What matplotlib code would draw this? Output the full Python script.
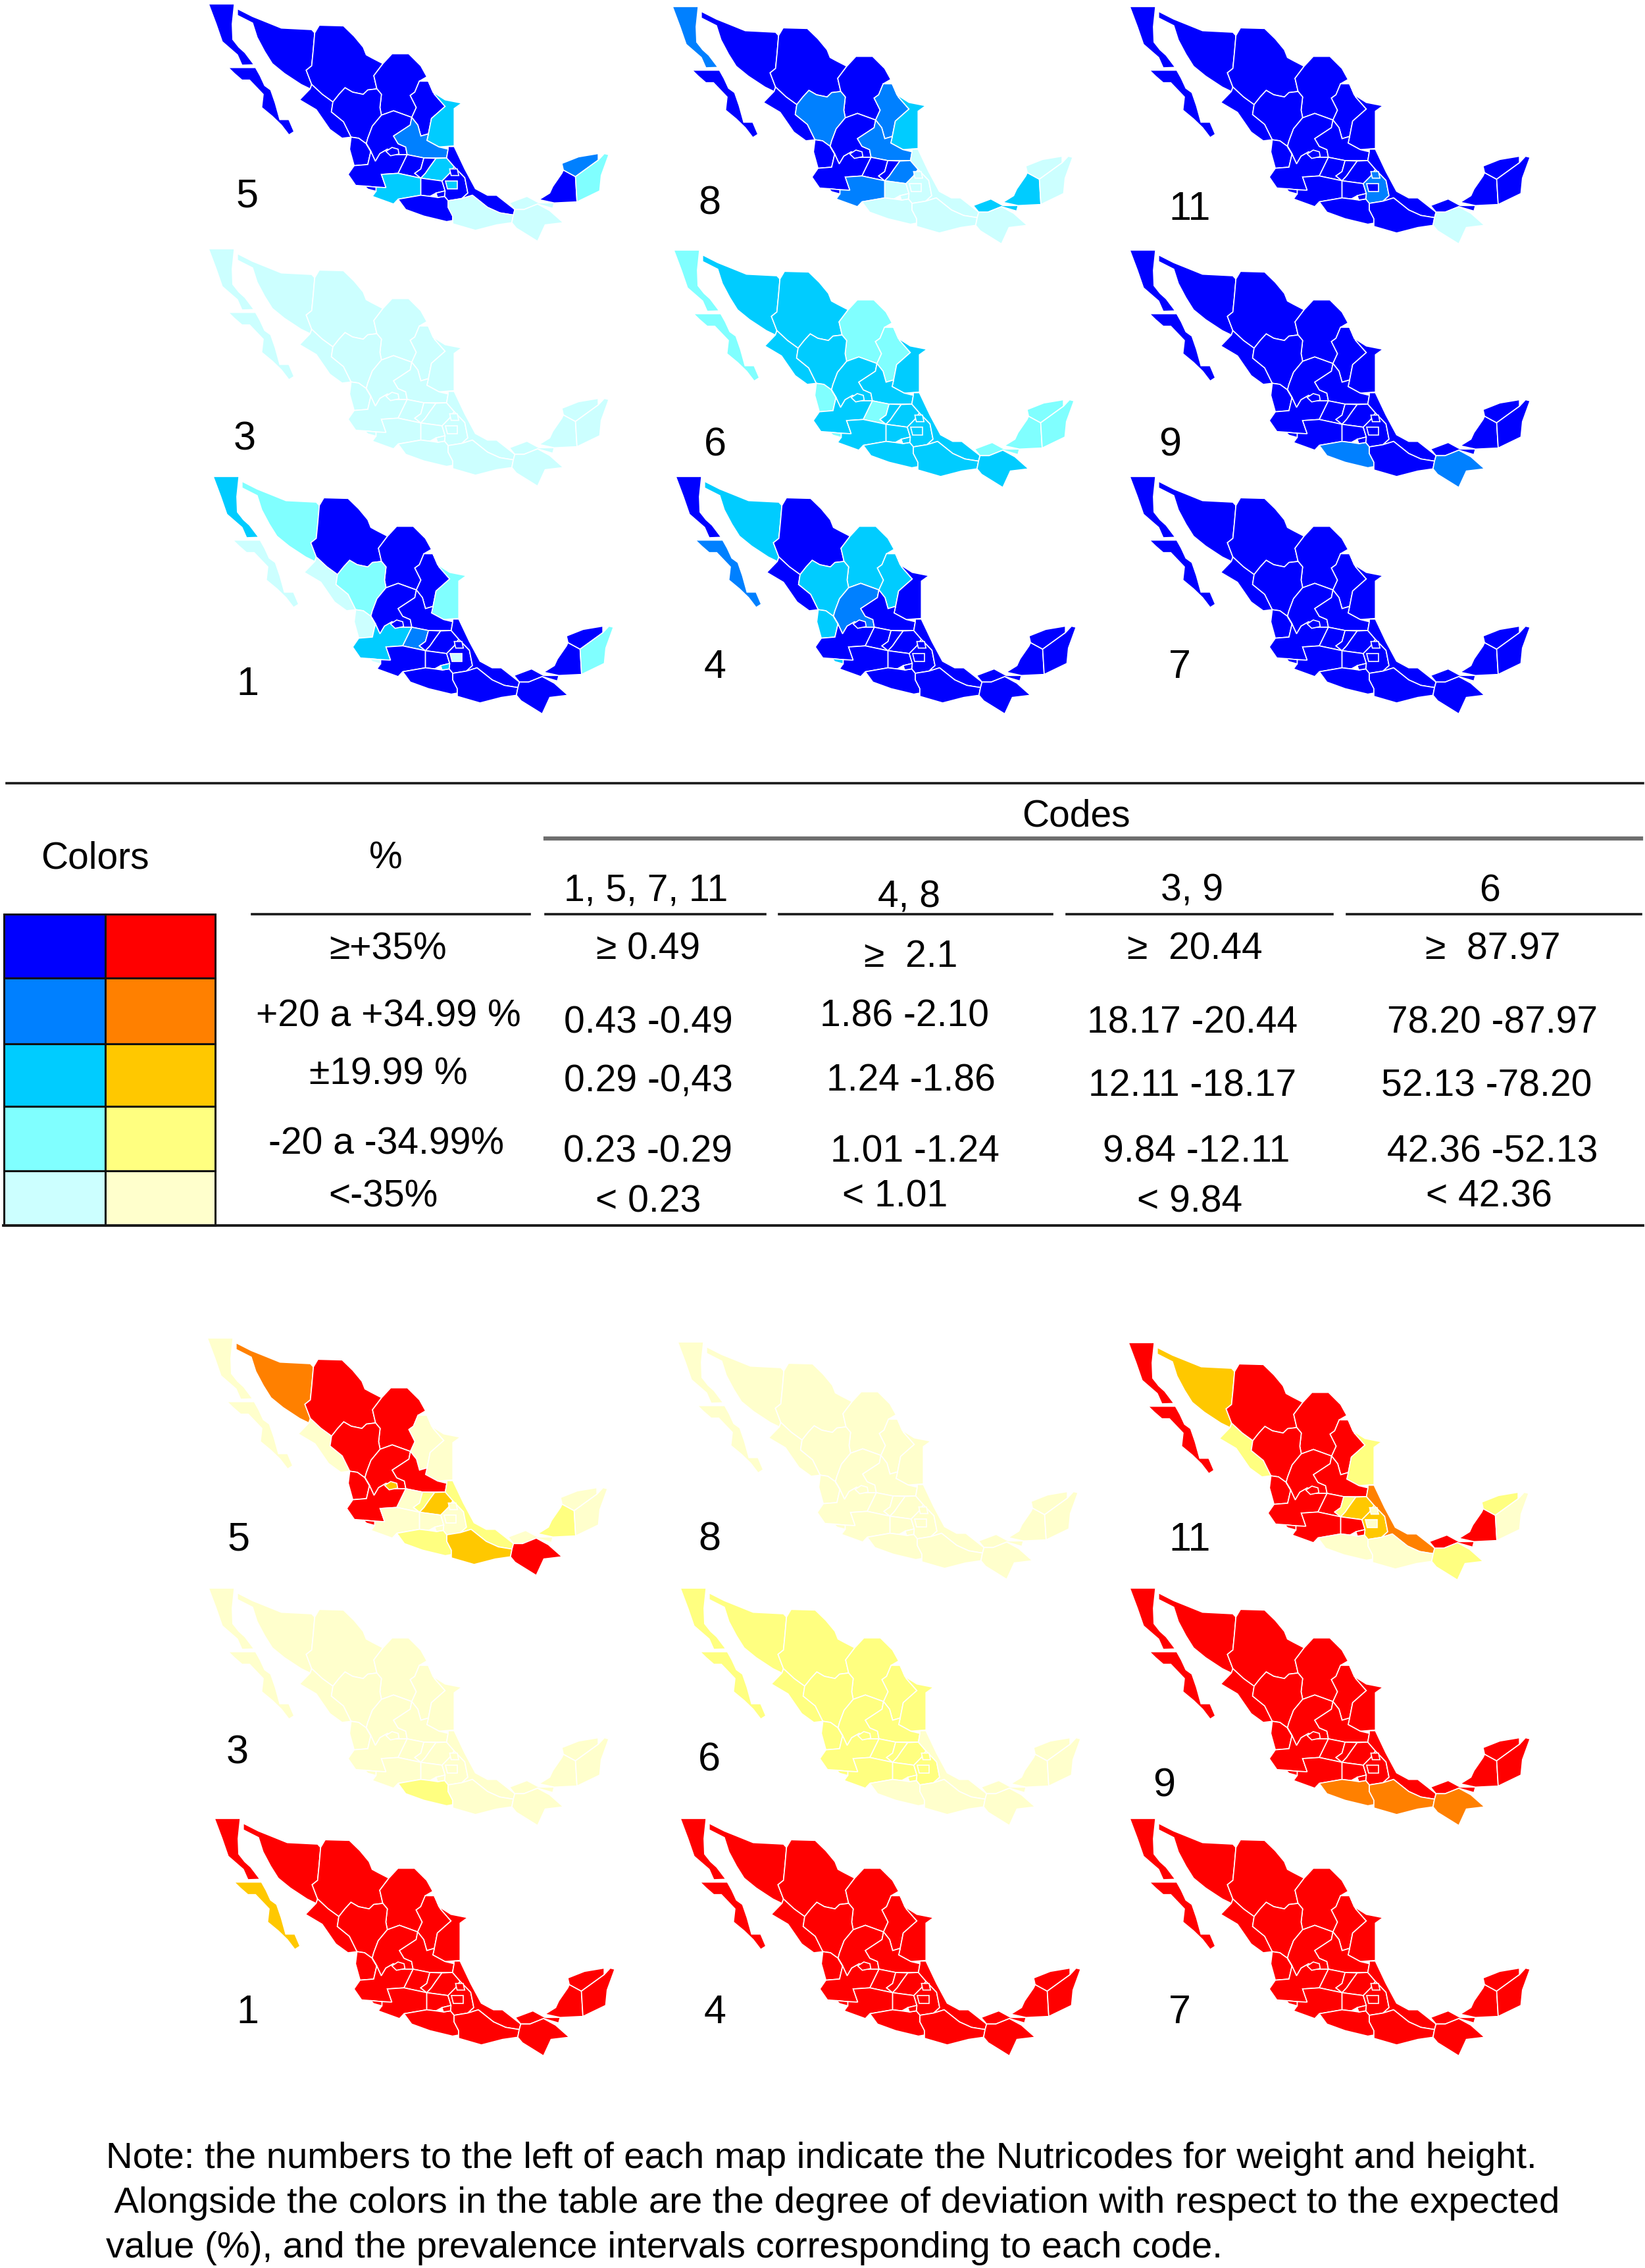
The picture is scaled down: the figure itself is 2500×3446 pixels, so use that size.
import matplotlib
matplotlib.use("Agg")
import matplotlib.pyplot as plt
from matplotlib.patches import Polygon, Rectangle

plt.rcParams['font.family'] = ['Liberation Sans', 'DejaVu Sans']

# state outlines (map 5, upper block)
BC = [(80,18),(165,18),(158,110),(160,180),(180,215),(200,240),(230,295),(190,297),(175,250),(125,190),(105,110)]
BCS = [(145,308),(235,308),(250,345),(265,390),(285,410),(300,470),(315,545),(345,545),(362,600),(345,615),(320,570),(290,530),(255,490),(260,430),(215,365),(190,365),(165,335)]
SON = [(175,40),(225,75),(270,100),(320,128),(420,135),(430,150),(425,230),(420,300),(402,320),(420,385),(415,405),(385,385),(330,335),(290,290),(265,235),(240,170),(225,105),(175,70)]
CHH = [(445,115),(525,118),(560,165),(590,215),(600,250),(620,265),(655,290),(625,345),(635,405),(605,410),(590,430),(555,420),(530,400),(510,430),(490,465),(455,430),(420,385),(402,320),(420,300),(425,230),(430,150)]
COA = [(685,245),(740,245),(780,300),(800,350),(775,370),(760,420),(745,435),(765,490),(750,535),(690,505),(650,525),(645,490),(650,430),(635,405),(625,345),(655,290)]
NL = [(775,370),(805,370),(825,430),(860,485),(815,540),(805,610),(780,620),(770,570),(750,535),(765,490),(745,435),(760,420)]
TAM = [(805,370),(820,420),(860,455),(915,470),(890,495),(890,665),(840,670),(800,640),(805,610),(815,540),(860,485),(825,430)]
SIN = [(415,405),(420,385),(455,430),(490,465),(485,510),(525,555),(550,625),(520,630),(480,590),(435,500),(380,455)]
DUR = [(490,465),(510,430),(530,400),(555,420),(590,430),(605,410),(635,405),(650,430),(645,490),(650,525),(620,575),(605,630),(600,655),(575,630),(550,625),(525,555),(485,510)]
ZAC = [(650,525),(690,505),(750,535),(745,570),(690,620),(705,655),(730,670),(735,705),(700,705),(670,680),(645,700),(630,735),(615,690),(600,655),(605,630),(620,575)]
SLP = [(750,535),(770,570),(780,620),(805,610),(800,640),(840,670),(870,680),(865,720),(790,720),(735,705),(730,670),(705,655),(690,620),(745,570)]
AGS = [(665,690),(685,672),(705,680),(708,702),(680,710)]
NAY = [(550,625),(575,630),(600,655),(615,690),(605,750),(560,755),(545,680)]
JAL = [(600,655),(615,690),(630,735),(645,700),(670,680),(700,705),(735,705),(705,790),(650,795),(665,855),(632,853),(595,848),(565,845),(540,795),(560,755),(605,750),(615,690)]
COL = [(595,848),(632,853),(632,872),(605,862)]
GTO = [(735,705),(790,720),(780,770),(760,790),(780,812),(705,790)]
QRO = [(790,720),(830,722),(810,760),(795,790),(780,812),(760,790),(780,770)]
HGO = [(830,722),(865,720),(890,760),(875,790),(850,825),(780,812),(795,790),(810,760)]
MIC = [(650,795),(705,790),(780,812),(780,890),(705,908),(690,930),(620,895),(632,872),(632,853),(665,855)]
MEX = [(780,812),(850,825),(860,870),(830,880),(810,895),(780,890)]
DF = [(862,826),(900,826),(900,860),(868,860)]
TLX = [(875,770),(900,770),(905,800),(880,800)]
MOR = [(830,880),(860,870),(858,895),(835,900)]
PUE = [(875,790),(890,760),(925,810),(935,880),(915,905),(870,915),(858,895),(860,870),(850,825)]
VER = [(870,668),(890,668),(925,770),(960,860),(1000,890),(1030,890),(1090,955),(1085,980),(1040,970),(1000,945),(950,890),(915,905),(935,880),(925,810),(890,760),(865,720),(870,680)]
GRO = [(705,908),(780,890),(810,895),(835,900),(858,895),(870,915),(870,945),(885,985),(885,1005),(865,1010),(790,985),(730,955)]
OAX = [(870,915),(915,905),(950,890),(1000,945),(1040,970),(1085,980),(1080,1015),(1030,1025),(960,1050),(885,1020),(885,985),(870,945)]
TAB = [(1090,955),(1072,925),(1130,895),(1170,925),(1220,925),(1215,950),(1165,930),(1120,955)]
CHP = [(1085,980),(1090,955),(1120,955),(1165,930),(1205,960),(1250,1015),(1190,1025),(1165,1100),(1095,1040),(1080,1015)]
CAM = [(1250,775),(1290,805),(1295,920),(1220,925),(1170,910),(1205,880),(1215,850),(1245,790)]
YUC = [(1245,745),(1300,715),(1365,700),(1365,730),(1290,805),(1250,775)]
QROO = [(1385,700),(1400,705),(1375,800),(1370,870),(1295,920),(1290,805),(1365,730)]

states = [BC, BCS, SON, CHH, COA, NL, TAM, SIN, DUR, ZAC, SLP, NAY, JAL, GTO, QRO, HGO, MIC, MEX,
          PUE, VER, GRO, OAX, TAB, CHP, CAM, YUC, QROO, AGS, COL, DF, TLX, MOR]

# colour class of each state (0 = >=+35% ... 4 = <-35%), same order as states
blue_5 = [0,0,0,0,0,0,2,0,0,0,1,0,0,0,0,2,2,0,0,0,0,4,4,4,0,1,3,0,0,2,0,0]
blue_8 = [1,0,0,0,0,1,2,0,1,0,1,0,0,0,0,1,1,4,4,4,4,4,2,4,2,4,4,0,0,4,4,4]
blue_11 = [0,0,0,0,0,0,0,0,0,0,0,0,0,0,0,0,0,0,1,0,0,0,0,4,0,0,0,0,0,0,1,0]
blue_3 = [4]*32
blue_6 = [3,3,2,2,3,3,2,2,2,2,2,3,2,3,2,2,2,2,2,2,2,2,3,2,3,3,3,2,3,2,2,2]
blue_9 = [0,0,0,0,0,0,0,0,0,0,0,0,0,0,0,0,0,0,0,0,1,0,0,1,0,0,0,0,0,0,0,0]
blue_1 = [2,4,3,0,0,0,3,4,3,0,0,4,2,1,0,0,0,0,0,0,0,0,0,0,0,0,3,0,4,4,0,2]
blue_4 = [0,1,2,0,2,2,0,0,2,1,0,2,0,0,0,0,0,0,0,0,0,0,0,0,0,0,0,0,2,0,0,0]
blue_7 = [0]*32

red_5 = [4,4,1,0,0,4,4,4,0,0,0,0,0,4,3,2,4,4,4,3,3,2,4,0,3,4,4,2,0,4,4,4]
red_8 = [4]*32
red_11 = [0,0,2,0,0,0,3,3,0,0,0,0,0,0,3,2,0,0,2,1,4,4,0,3,0,3,4,0,0,4,4,0]
red_3 = [4,4,4,4,4,4,4,4,4,4,4,4,4,4,4,4,4,4,4,4,3,4,4,4,4,4,4,4,4,4,4,4]
red_6 = [3,3,3,3,3,3,3,3,3,3,3,3,3,3,3,3,3,3,3,4,4,4,4,4,4,4,4,3,3,3,3,3]
red_9 = [0,0,0,0,0,0,0,0,0,0,0,0,0,0,0,0,0,0,0,0,1,1,0,1,0,0,0,0,0,0,0,0]
red_1 = [0,2,0,0,0,0,0,0,0,0,0,0,0,0,0,0,0,0,0,0,0,0,0,0,0,0,0,0,0,0,0,0]
red_4 = [0]*32
red_7 = [0]*32

blues = ["#0000ff", "#0080ff", "#00ccff", "#80ffff", "#ccffff"]
reds = ["#ff0000", "#ff8000", "#ffc800", "#ffff80", "#ffffcc"]

pct_labels = ["≥+35%", "+20 a +34.99 %", "±19.99 %", "-20 a -34.99%", "<-35%"]
col_headers = ["1, 5, 7, 11", "4, 8", "3, 9", "6"]
col1 = ["≥ 0.49", "0.43 -0.49", "0.29 -0,43", "0.23 -0.29", "< 0.23"]
col2 = ["≥  2.1", "1.86 -2.10", "1.24 -1.86", "1.01 -1.24", "< 1.01"]
col3 = ["≥  20.44", "18.17 -20.44", "12.11 -18.17", "9.84 -12.11", "< 9.84"]
col4 = ["≥  87.97", "78.20 -87.97", "52.13 -78.20", "42.36 -52.13", "< 42.36"]
note = ["Note: the numbers to the left of each map indicate the Nutricodes for weight and height.",
        " Alongside the colors in the table are the degree of deviation with respect to the expected",
        "value (%), and the prevalence intervals corresponding to each code."]

W, H = 2500, 3446
FS = 41

fig = plt.figure(figsize=(W / 100, H / 100), dpi=100, facecolor="white")
ax = fig.add_axes([0, 0, 1, 1])
ax.set_xlim(0, W)
ax.set_ylim(H, 0)
ax.axis("off")


def draw_map(classes, palette, x0, y0):
    for outline, c in zip(states, classes):
        pts = [(x0 + (x - 80) / 2.17, y0 + (y - 18) / 3) for x, y in outline]
        ax.add_patch(Polygon(pts, closed=True, facecolor=palette[c], edgecolor="white", lw=1.2))


def txt(x, y, s, size=FS, ha="center"):
    ax.text(x, y + 4, s, fontsize=size, ha=ha, va="center", color="black")


# upper block
maps_top = [(blue_5, 317, 6, "5", 376, 295), (blue_8, 1022, 10, "8", 1078, 306), (blue_11, 1717, 10, "11", 1808, 315),
            (blue_3, 317, 378, "3", 372, 664), (blue_6, 1024, 380, "6", 1087, 673), (blue_9, 1717, 380, "9", 1778, 673),
            (blue_1, 324, 724, "1", 376, 1036), (blue_4, 1027, 724, "4", 1087, 1010), (blue_7, 1717, 724, "7", 1793, 1010)]
for classes, x0, y0, label, lx, ly in maps_top:
    draw_map(classes, blues, x0, y0)
    txt(lx, ly, label, size=44)

# lower block
maps_bottom = [(red_5, 315, 2033, "5", 363, 2336), (red_8, 1030, 2039, "8", 1078, 2336), (red_11, 1715, 2040, "11", 1808, 2336),
               (red_3, 317, 2413, "3", 361, 2660), (red_6, 1034, 2413, "6", 1078, 2671), (red_9, 1717, 2413, "9", 1769, 2710),
               (red_1, 326, 2763, "1", 376, 3054), (red_4, 1034, 2763, "4", 1087, 3054), (red_7, 1717, 2763, "7", 1793, 3054)]
for classes, x0, y0, label, lx, ly in maps_bottom:
    draw_map(classes, reds, x0, y0)
    txt(lx, ly, label, size=44)

# table rules
ax.plot([10, 2497], [1190, 1190], color="#1a1a1a", lw=2.6)
ax.plot([829, 2494], [1274, 1274], color="#6e6e6e", lw=4.5)
for a, b in [(383, 805), (829, 1163), (1184, 1599), (1621, 2025), (2047, 2494)]:
    ax.plot([a, b], [1389, 1389], color="#1a1a1a", lw=2.6)
ax.plot([5, 2497], [1862, 1862], color="#1a1a1a", lw=2.8)

# colour key
edges_y = [1389, 1486, 1586, 1681, 1779, 1862]
for i in range(5):
    h = edges_y[i + 1] - edges_y[i]
    ax.add_patch(Rectangle((6, edges_y[i]), 154, h, facecolor=blues[i], edgecolor="#111111", lw=2.2))
    ax.add_patch(Rectangle((160, edges_y[i]), 167, h, facecolor=reds[i], edgecolor="#111111", lw=2.2))

# table text
txt(144, 1300, "Colors")
txt(586, 1300, "%")
txt(1635, 1236, "Codes")
for label, x, y in zip(col_headers, [982, 1382, 1812, 2264], [1350, 1359, 1350, 1350]):
    txt(x, y, label)

for label, x, y in zip(pct_labels, [590, 590, 590, 587, 582], [1438, 1540, 1629, 1734, 1815]):
    txt(x, y, label)
for label, x, y in zip(col1, [985] * 5, [1438, 1551, 1639, 1747, 1822]):
    txt(x, y, label)
for label, x, y in zip(col2, [1384, 1374, 1384, 1390, 1360], [1450, 1540, 1639, 1747, 1815]):
    txt(x, y, label)
for label, x, y in zip(col3, [1816, 1812, 1812, 1818, 1808], [1438, 1551, 1646, 1747, 1822]):
    txt(x, y, label)
for label, x, y in zip(col4, [2269, 2268, 2259, 2268, 2263], [1438, 1551, 1646, 1747, 1815]):
    txt(x, y, label)

for line, y in zip(note, [3276, 3344, 3412]):
    txt(161, y, line, size=40.5, ha="left")

fig.savefig("out.png", dpi=100, facecolor="white")
